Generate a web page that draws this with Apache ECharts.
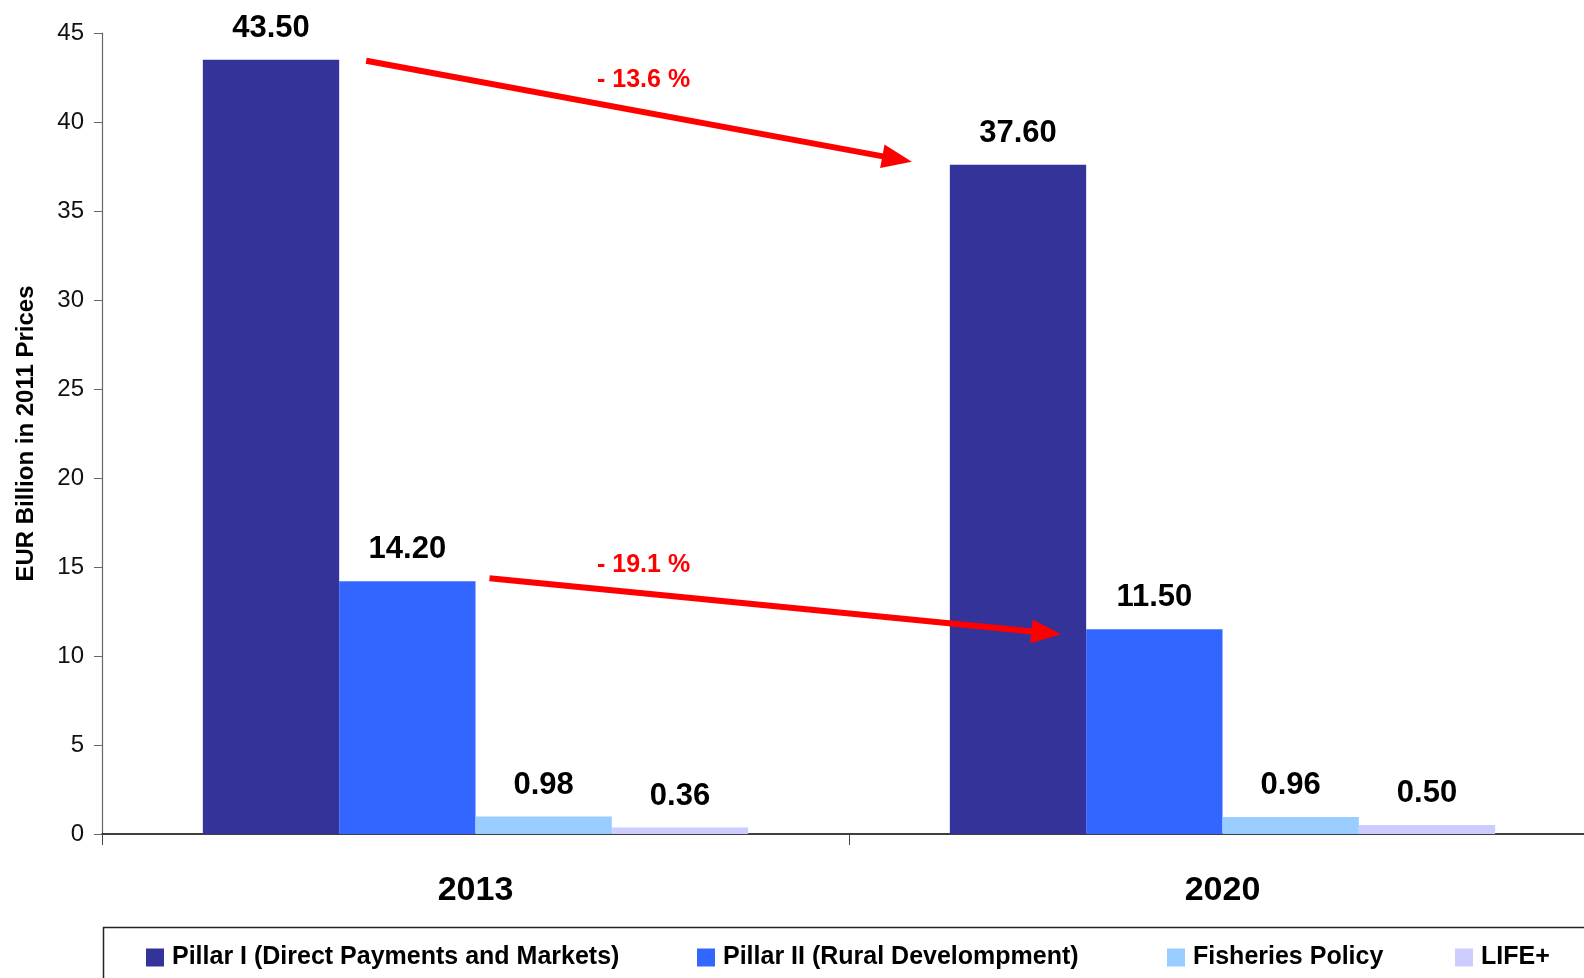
<!DOCTYPE html>
<html>
<head>
<meta charset="utf-8">
<script src="https://cdn.jsdelivr.net/npm/echarts@6/dist/echarts.min.js"></script>
<style>html,body{margin:0;padding:0;background:#fff}#c{width:1584px;height:978px}</style>
</head>
<body>
<div id="c"></div>
<script>
const categories = ['2013', '2020'];
const seriesNames = ['Pillar I (Direct Payments and Markets)', 'Pillar II (Rural Develompment)', 'Fisheries Policy', 'LIFE+'];
const pillar1 = [43.5, 37.6];
const pillar2 = [14.2, 11.5];
const fisheries = [0.98, 0.96];
const life = [0.36, 0.5];
const changeLabels = ['- 13.6 %', '- 19.1 %'];
const yName = 'EUR Billion in 2011 Prices';

const colors = ['#333399', '#3366ff', '#99ccff', '#ccccff'];
const values = [pillar1, pillar2, fisheries, life];
const legendLeft = [146, 697, 1167, 1455];
const FONT = '"Liberation Sans", Arial, sans-serif';

const chart = echarts.init(document.getElementById('c'));
const gapRatio = 0.27;

chart.setOption({
  animation: false,
  backgroundColor: '#fff',
  grid: { left: 102, top: 33, width: 1494, height: 801, outerBoundsMode: 'none', containLabel: false },
  legend: seriesNames.map((n, i) => ({
    left: legendLeft[i], top: 945, padding: 0, itemWidth: 18, itemHeight: 18,
    icon: 'rect',
    textStyle: { fontFamily: FONT, fontWeight: 'bold', fontSize: 25, color: '#000', padding: [0, 0, 0, 3] },
    data: [n]
  })),
  xAxis: {
    type: 'category', data: categories,
    axisLine: { lineStyle: { color: '#000', width: 1.5 } },
    axisTick: { show: true, length: 11, lineStyle: { color: '#444' } },
    axisLabel: { margin: 40, fontFamily: FONT, fontWeight: 'bold', fontSize: 34, color: '#000' }
  },
  yAxis: {
    type: 'value', min: 0, max: 45, interval: 5,
    name: yName, nameLocation: 'middle', nameGap: 64, nameRotate: 90,
    nameTextStyle: { fontFamily: FONT, fontWeight: 'bold', fontSize: 24, color: '#000' },
    axisLine: { show: true, lineStyle: { color: '#666', width: 1.2 } },
    axisTick: { show: true, length: 8, lineStyle: { color: '#666' } },
    splitLine: { show: false },
    axisLabel: { margin: 18, fontFamily: FONT, fontSize: 24, color: '#111' }
  },
  series: seriesNames.map((n, i) => ({
    name: n, type: 'bar', data: values[i],
    barGap: '0%', barCategoryGap: (gapRatio * 100) + '%',
    itemStyle: { color: colors[i] },
    label: {
      show: true, position: 'top', distance: 16,
      formatter: p => p.value.toFixed(2),
      fontFamily: FONT, fontWeight: 'bold', fontSize: 31, color: '#000'
    }
  }))
});

function arrow(sx, sy, tx, ty) {
  const dx = tx - sx, dy = ty - sy, L = Math.hypot(dx, dy);
  const ux = dx / L, uy = dy / L, px = -uy, py = ux;
  const hl = 30, hw = 12;
  const bx = tx - ux * hl, by = ty - uy * hl;
  return [
    { type: 'line', shape: { x1: sx, y1: sy, x2: bx + ux * 2, y2: by + uy * 2 }, style: { stroke: '#ff0000', lineWidth: 6 }, z: 100 },
    { type: 'polygon', shape: { points: [[tx, ty], [bx + px * hw, by + py * hw], [bx - px * hw, by - py * hw]] }, style: { fill: '#ff0000' }, z: 100 }
  ];
}

const c0 = chart.convertToPixel({ gridIndex: 0 }, [categories[0], 0]);
const c1 = chart.convertToPixel({ gridIndex: 0 }, [categories[1], 0]);
const catW = c1[0] - c0[0];
const barW = catW * (1 - gapRatio) / 4;
const barLeft = (cx, k) => cx - 2 * barW + k * barW;
const yPix = v => chart.convertToPixel({ gridIndex: 0 }, [categories[0], v])[1];

const g = [];
g.push(...arrow(barLeft(c0[0], 0) + barW + 27, yPix(pillar1[0]) + 1, barLeft(c1[0], 0) - 38, yPix(pillar1[1]) - 3));
g.push(...arrow(barLeft(c0[0], 1) + barW + 14, yPix(pillar2[0]) - 3, barLeft(c1[0], 1) - 25, yPix(pillar2[1]) + 5));
const lx = c0[0] + 0.225 * catW;
g.push({ type: 'text', x: lx, y: yPix(pillar1[0]) + 20, style: { text: changeLabels[0], fill: '#ff0000', font: 'bold 25px ' + FONT, align: 'center', verticalAlign: 'middle' }, z: 100 });
g.push({ type: 'text', x: lx, y: yPix(pillar2[0]) - 16, style: { text: changeLabels[1], fill: '#ff0000', font: 'bold 25px ' + FONT, align: 'center', verticalAlign: 'middle' }, z: 100 });
g.push({ type: 'rect', shape: { x: 103.5, y: 927.5, width: 1600, height: 200 }, style: { fill: 'none', stroke: '#222', lineWidth: 1.5 }, z: -1 });
chart.setOption({ graphic: g });
</script>
</body>
</html>
